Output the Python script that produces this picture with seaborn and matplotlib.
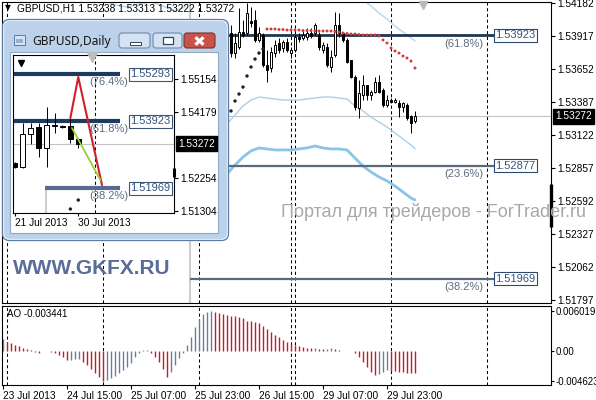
import numpy as np
import matplotlib
matplotlib.use("Agg")
import matplotlib.pyplot as plt
from matplotlib.patches import Rectangle, FancyBboxPatch
import seaborn as sns

sns.set_style("white")
plt.rcParams['font.family'] = ['Liberation Sans', 'DejaVu Sans']

# ---------------- H1 chart data ----------------
h1_idx = list(range(56, 104))
h1_open = [1.53869, 1.53941, 1.53780, 1.53829, 1.53949, 1.53941, 1.54037, 1.54045, 1.53885, 1.53925,
           1.53684, 1.53660, 1.53780, 1.53861, 1.53821, 1.53869, 1.53780, 1.53805, 1.53909, 1.53901,
           1.53909, 1.53941, 1.53941, 1.53925, 1.53805, 1.53829, 1.53668, 1.53764, 1.54005, 1.53941,
           1.53885, 1.53724, 1.53588, 1.53339, 1.53443, 1.53523, 1.53443, 1.53467, 1.53548, 1.53483,
           1.53363, 1.53403, 1.53387, 1.53379, 1.53347, 1.53363, 1.53275, 1.53238]
h1_high = [1.53941, 1.54005, 1.53941, 1.54142, 1.54045, 1.54182, 1.54150, 1.54126, 1.53989, 1.53941,
           1.53805, 1.53829, 1.53885, 1.53901, 1.53885, 1.53901, 1.53829, 1.53925, 1.53941, 1.53965,
           1.53981, 1.53981, 1.54021, 1.53949, 1.53869, 1.53861, 1.53805, 1.54110, 1.54102, 1.53949,
           1.53901, 1.53724, 1.53604, 1.53564, 1.53604, 1.53523, 1.53483, 1.53588, 1.53604, 1.53499,
           1.53443, 1.53419, 1.53419, 1.53403, 1.53387, 1.53379, 1.53283, 1.53313]
h1_low = [1.53845, 1.53748, 1.53740, 1.53813, 1.53909, 1.53925, 1.53989, 1.53869, 1.53869, 1.53668,
          1.53548, 1.53628, 1.53748, 1.53780, 1.53788, 1.53788, 1.53740, 1.53788, 1.53869, 1.53885,
          1.53885, 1.53901, 1.53925, 1.53805, 1.53780, 1.53668, 1.53628, 1.53748, 1.53909, 1.53869,
          1.53700, 1.53580, 1.53323, 1.53258, 1.53403, 1.53403, 1.53403, 1.53459, 1.53459, 1.53347,
          1.53347, 1.53379, 1.53379, 1.53266, 1.53307, 1.53242, 1.53138, 1.53222]
h1_close = [1.53909, 1.53780, 1.53861, 1.53949, 1.53925, 1.54102, 1.54021, 1.53885, 1.53941, 1.53684,
            1.53644, 1.53788, 1.53845, 1.53805, 1.53869, 1.53805, 1.53805, 1.53909, 1.53893, 1.53925,
            1.53941, 1.53917, 1.54005, 1.53829, 1.53845, 1.53684, 1.53748, 1.54005, 1.53941, 1.53885,
            1.53708, 1.53588, 1.53347, 1.53459, 1.53523, 1.53443, 1.53467, 1.53548, 1.53467, 1.53363,
            1.53403, 1.53387, 1.53403, 1.53347, 1.53379, 1.53258, 1.53218, 1.53272]

sar_bull_idx = list(range(57, 66))
sar_bull = [1.53315, 1.53395, 1.53451, 1.53507, 1.53596, 1.53668, 1.53732, 1.53780, 1.53813]
sar_bear_idx = list(range(66, 104))
sar_bear = [1.53973, 1.53973, 1.53973, 1.53969, 1.53969, 1.53965, 1.53965, 1.53965, 1.53965, 1.53961,
            1.53961, 1.53961, 1.53957, 1.53957, 1.53957, 1.53957, 1.53957, 1.53953, 1.53949, 1.53941,
            1.53937, 1.53933, 1.53933, 1.53929, 1.53925, 1.53925, 1.53925, 1.53925, 1.53917, 1.53885,
            1.53861, 1.53821, 1.53797, 1.53780, 1.53756, 1.53740, 1.53716, 1.53660]

env_idx = [56, 58, 60, 62, 64, 66, 68, 70, 72, 74, 76, 78, 80, 82, 84, 86, 88, 90, 92, 94, 96, 98, 100, 102, 103]
env_mid = [1.53210, 1.53283, 1.53355, 1.53403, 1.53427, 1.53419, 1.53411, 1.53403, 1.53403, 1.53403,
           1.53411, 1.53419, 1.53427, 1.53427, 1.53419, 1.53411, 1.53355, 1.53315, 1.53266, 1.53226,
           1.53186, 1.53138, 1.53090, 1.53042, 1.53010]
env_low = [1.52809, 1.52881, 1.52945, 1.52994, 1.53018, 1.53010, 1.53002, 1.53002, 1.53002, 1.53010,
           1.53018, 1.53034, 1.53018, 1.53010, 1.53010, 1.53002, 1.52937, 1.52873, 1.52825, 1.52785,
           1.52753, 1.52712, 1.52664, 1.52616, 1.52600]
env_up_a_idx = [22, 25, 28, 31, 34, 37, 40, 43, 45, 47, 49]
env_up_a = [1.54254, 1.54206, 1.54166, 1.54150, 1.54174, 1.54190, 1.54158, 1.54118, 1.54142, 1.54206, 1.54270]
env_up_b_idx = [88, 90, 92, 94, 96, 98, 100, 102, 103]
env_up_b = [1.54270, 1.54206, 1.54158, 1.54102, 1.54053, 1.53997, 1.53949, 1.53901, 1.53877]

bid = 1.53272
h1_fib_levels = [1.53923, 1.52877, 1.51969]
h1_fib_pcts = ["(61.8%)", "(23.6%)", "(38.2%)"]
h1_yticks = [1.54182, 1.53917, 1.53652, 1.53387, 1.53122, 1.52857, 1.52592, 1.52327, 1.52062, 1.51797]
separators = [1, 25, 49, 72, 73, 97, 121]
xlabel_idx = [0, 16, 32, 48, 64, 80, 96]
xlabels = ["23 Jul 2013", "24 Jul 15:00", "25 Jul 07:00", "25 Jul 23:00",
           "26 Jul 15:00", "29 Jul 07:00", "29 Jul 23:00"]

ao_idx = list(range(0, 104))
ao = [0.00173, 0.00127, 0.00112, 0.00091, 0.00066, 0.00046, 0.00025, 0.00010, -0.00015, -0.00030,
      -0.00010, -0.00005, -0.00020, -0.00041, -0.00071, -0.00102, -0.00142, -0.00137, -0.00132, -0.00127,
      -0.00168, -0.00218, -0.00274, -0.00335, -0.00406, -0.004623, -0.00447, -0.00422, -0.00386, -0.00345,
      -0.00295, -0.00244, -0.00183, -0.00100, -0.00030, 0.00010, 0.00015, -0.00030, -0.00090, -0.00170,
      -0.00280, -0.00396, -0.00320, -0.00218, -0.00117, -0.00030, 0.00086, 0.00213, 0.00366, 0.00478,
      0.00559, 0.00594, 0.006019, 0.00584, 0.00569, 0.00554, 0.00544, 0.00533, 0.00523, 0.00513,
      0.00493, 0.00457, 0.00447, 0.00437, 0.00417, 0.00381, 0.00330, 0.00284, 0.00239, 0.00203,
      0.00163, 0.00132, 0.00107, 0.00086, 0.00071, 0.00056, 0.00046, 0.00036, 0.00041, 0.00030,
      0.00025, 0.00030, 0.00036, 0.00020, 0.00005, -0.00010, -0.00005, -0.00002, -0.00030, -0.00090,
      -0.00170, -0.00250, -0.00320, -0.00376, -0.00350, -0.00320, -0.00300, -0.00305, -0.00312, -0.00320,
      -0.00327, -0.00333, -0.00339, -0.003441]
ao_ticks = [0.006019, 0.0, -0.004623]
ao_ticklabels = ["0.006019", "0.00", "-0.004623"]

# ---------------- Daily window data ----------------
d_idx = [0, 1, 2, 3, 4, 5, 6, 7, 8]
d_open = [1.52704, 1.52587, 1.53550, 1.53754, 1.53141, 1.53783, 1.53783, 1.53783, 1.53404]
d_high = [1.52733, 1.53870, 1.53870, 1.53870, 1.54337, 1.54162, 1.53812, 1.54045, 1.53433]
d_low = [1.52558, 1.52558, 1.53258, 1.52879, 1.52587, 1.53579, 1.53725, 1.53287, 1.53138]
d_close = [1.52587, 1.53550, 1.53725, 1.53141, 1.53812, 1.53812, 1.53754, 1.53404, 1.53272]
d_fib_levels = [1.55293, 1.53923, 1.51969]
d_fib_pcts = ["(76.4%)", "(61.8%)", "(38.2%)"]
d_fib_start = [-0.25, -0.25, 3.8]
d_zig_idx = [7, 8, 11]
d_zig = [1.54016, 1.55212, 1.52062]
d_green_idx = [7.2, 10.8]
d_green = [1.53725, 1.52208]
d_sar_idx = [7, 8]
d_sar = [1.51362, 1.51624]
d_yticks = [1.55154, 1.54179, 1.52254, 1.51304]
d_xlabel_idx = [0, 8]
d_xlabels = ["21 Jul 2013", "30 Jul 2013"]

# ---------------- figure ----------------
W, H = 596, 400
fig = plt.figure(figsize=(W / 100, H / 100), dpi=100)
fig.patch.set_facecolor('white')


def box(x0, y0, x1, y1):
    return [x0 / W, 1 - y1 / H, (x1 - x0) / W, (y1 - y0) / H]


def candles(a, idx, o, h, l, c, width, lw, minh):
    idx = np.asarray(idx, float)
    o, h, l, c = map(np.asarray, (o, h, l, c))
    a.vlines(idx, l, h, color='black', lw=lw, zorder=4)
    up = c >= o
    bottom = np.minimum(o, c)
    height = np.maximum(np.abs(c - o), minh)
    a.bar(idx[up], height[up], width, bottom[up], color='white', edgecolor='black', linewidth=lw, zorder=5)
    a.bar(idx[~up], height[~up], width, bottom[~up], color='black', edgecolor='black', linewidth=lw, zorder=5)


TICK_FS = 7.3

# ---- main H1 axes ----
ax = fig.add_axes(box(2, 2, 551, 303))
ax.set_facecolor('white')
for s in separators:
    ax.axvline(s, color='black', lw=0.75, ls=(0, (3, 2.5)), zorder=1)
ax.axvline(46.75, color='#cdcdcd', lw=1.5, zorder=1)
ax.axhline(bid, color='#c4c4c4', lw=0.8, zorder=1)

sns.lineplot(x=env_idx, y=env_mid, ax=ax, color='#a9d0ea', lw=1.0, sort=False, zorder=2)
sns.lineplot(x=env_idx, y=env_low, ax=ax, color='#8cc4e8', lw=2.0, sort=False, zorder=2)
sns.lineplot(x=env_up_a_idx, y=env_up_a, ax=ax, color='#b6d8ee', lw=1.0, sort=False, zorder=2)
sns.lineplot(x=env_up_b_idx, y=env_up_b, ax=ax, color='#b6d8ee', lw=1.0, sort=False, zorder=2)

fib_cols = ['#1f3651', '#5d687c', '#5d687c']
fib_lws = [2.0, 1.6, 1.6]
for lvl, pct, col, lw in zip(h1_fib_levels, h1_fib_pcts, fib_cols, fib_lws):
    ax.hlines(lvl, 46.75, 122.75, color=col, lw=lw, zorder=3)
    ax.text(123.1, lvl, f"{lvl:.5f}", ha='left', va='center', fontsize=8, color='#34567c',
            bbox=dict(boxstyle='square,pad=0.12', fc='white', ec='#2c4a6c', lw=0.8), zorder=8)
    ax.annotate(pct, xy=(120.0, lvl), xytext=(0, -2.5), textcoords='offset points',
                ha='right', va='top', fontsize=8, color='#5d6c82', zorder=8)

candles(ax, h1_idx, h1_open, h1_high, h1_low, h1_close, 0.72, 0.7, 0.00004)

sns.scatterplot(x=sar_bull_idx, y=sar_bull, ax=ax, color='#1b2130', s=6, marker='o',
                edgecolor='none', linewidth=0, zorder=6)
sns.scatterplot(x=sar_bear_idx, y=sar_bear, ax=ax, color='#d43a3a', s=4.5, marker='o',
                edgecolor='none', linewidth=0, zorder=6)

ax.plot([137, 137], [1.52728, 1.52383], color='black', lw=2.4, solid_capstyle='butt',
        clip_on=False, zorder=9)
ax.plot([105], [1.54166], marker='v', ms=6, color='#b8b8b8', clip_on=False, zorder=9)

ax.set_xlim(-0.25, 137.0)
ax.set_ylim(1.51773, 1.54190)
ax.yaxis.tick_right()
ax.set_yticks(h1_yticks)
ax.set_yticklabels([f"{v:.5f}" for v in h1_yticks])
ax.set_xticks([])
ax.tick_params(axis='y', right=True, left=False, length=3, width=0.8, pad=1.5,
               labelsize=TICK_FS, colors='black')
for sp in ax.spines.values():
    sp.set_color('black')
    sp.set_linewidth(0.8)
ax.text(1.007, bid, f"{bid:.5f}", transform=ax.get_yaxis_transform(), ha='left', va='center',
        fontsize=TICK_FS, color='white',
        bbox=dict(boxstyle='square,pad=0.22', fc='black', ec='black'), zorder=10, clip_on=False)

# ---- AO axes ----
ax2 = fig.add_axes(box(2, 306, 551, 385))
for s in separators:
    ax2.axvline(s, color='black', lw=0.75, ls=(0, (3, 2.5)), zorder=1)
ao_arr = np.asarray(ao)
ao_colors = ['#6e7d96' if k == 0 or ao_arr[k] > ao_arr[k - 1] else '#be1e28' for k in range(len(ao_arr))]
ax2.vlines(ao_idx, 0, ao_arr, colors=ao_colors, lw=1.0, zorder=2)
ax2.set_xlim(-0.25, 137.0)
ax2.set_ylim(-0.00523, 0.00681)
ax2.yaxis.tick_right()
ax2.set_yticks(ao_ticks)
ax2.set_yticklabels(ao_ticklabels)
ax2.set_xticks(xlabel_idx)
ax2.set_xticklabels(xlabels)
for t in ax2.get_xticklabels():
    t.set_horizontalalignment('left')
ax2.tick_params(axis='y', right=True, left=False, length=2.5, width=0.8, pad=1.0,
                labelsize=6.9, colors='black')
ax2.tick_params(axis='x', bottom=True, length=3, width=0.8, pad=1.5, labelsize=TICK_FS, colors='black')
for sp in ax2.spines.values():
    sp.set_color('black')
    sp.set_linewidth(0.8)
ax2.text(0.009, 0.9, f"AO {ao[-1]:.6f}", transform=ax2.transAxes, ha='left', va='center',
         fontsize=7, color='black')

# ---- figure texts ----
fig.text(5 / W, 1 - 8 / H, "\u25bc", fontsize=5.5, color='black', va='center', ha='left',
         family=['DejaVu Sans'])
fig.text(17 / W, 1 - 8.5 / H, "GBPUSD,H1 1.53238 1.53313 1.53222 1.53272", fontsize=TICK_FS,
         color='black', va='center', ha='left')
fig.text(13 / W, 1 - 273.5 / H, "WWW.GKFX.RU", fontsize=15, fontweight='bold', color='#5a6c98',
         va='baseline', ha='left')
fig.text(281 / W, 1 - 217 / H, "Портал для трейдеров - ForTrader.ru", fontsize=13,
         color='#a8a8a8', va='baseline', ha='left')

# ---- daily window chrome ----
ch = fig.add_axes([0, 0, 1, 1], zorder=5)
ch.set_xlim(0, W)
ch.set_ylim(H, 0)
ch.axis('off')
ch.add_patch(FancyBboxPatch((2.5, 19.5), 226, 221, boxstyle='round,pad=0,rounding_size=7',
                            fc='#bbd2ea', ec='#5d7ca3', lw=0.9))
ch.add_patch(FancyBboxPatch((3.7, 20.7), 223.6, 218.6, boxstyle='round,pad=0,rounding_size=6',
                            fc='none', ec='#e6f0fa', lw=0.7))
ch.add_patch(Rectangle((10, 52), 208, 181, fc='white', ec='#8fa9c6', lw=0.8))
ch.add_patch(Rectangle((13.5, 34.5), 11, 10, fc='#d6e5f5', ec='#5a7ca5', lw=0.7))
ch.add_patch(Rectangle((15.5, 38.5), 7, 4, fc='#8fb4dc', ec='none'))
ch.text(32, 41, "GBPUSD,Daily", fontsize=8.6, va='center', ha='left', color='#151515',
        family=['Noto Sans', 'DejaVu Sans'])
ch.add_patch(FancyBboxPatch((119, 33), 31, 15, boxstyle='round,pad=0,rounding_size=3',
                            fc='#d4e2f2', ec='#6e89ad', lw=0.8))
ch.add_patch(Rectangle((129.5, 41.5), 11, 3, fc='white', ec='#2e4563', lw=0.7))
ch.add_patch(FancyBboxPatch((153, 33), 29, 15, boxstyle='round,pad=0,rounding_size=3',
                            fc='#d4e2f2', ec='#6e89ad', lw=0.8))
ch.add_patch(Rectangle((162.5, 37), 10, 7, fc='white', ec='#2e4563', lw=0.9))
ch.add_patch(FancyBboxPatch((184, 33), 31, 15, boxstyle='round,pad=0,rounding_size=3',
                            fc='#c9534b', ec='#7d2f29', lw=0.8))
ch.plot([195.5, 203.5], [37.3, 44.7], color='white', lw=2.3, solid_capstyle='butt')
ch.plot([195.5, 203.5], [44.7, 37.3], color='white', lw=2.3, solid_capstyle='butt')

# ---- daily chart axes ----
dax = fig.add_axes(box(13, 55, 174, 213), zorder=6)
dax.set_facecolor('white')
dax.axvline(10.1, color='black', lw=0.75, ls=(0, (3, 2.5)), zorder=1)
dax.vlines(3.9, 1.51246, d_fib_levels[2], color='#cdcdcd', lw=1.5, zorder=1)
dax.axhline(bid, color='#c4c4c4', lw=0.8, zorder=1)
d_cols = ['#1f3a60', '#1f3a60', '#5b6b90']
for lvl, pct, x0, col in zip(d_fib_levels, d_fib_pcts, d_fib_start, d_cols):
    dax.hlines(lvl, x0, 13.3, color=col, lw=3.0, zorder=2)
    dax.text(14.6, lvl, f"{lvl:.5f}", ha='left', va='center', fontsize=8, color='#34567c',
             bbox=dict(boxstyle='square,pad=0.12', fc='white', ec='#3c5878', lw=0.8), zorder=8)
    dax.annotate(pct, xy=(14.3, lvl), xytext=(0, -2.2), textcoords='offset points',
                 ha='right', va='top', fontsize=8, color='#5d6c82', zorder=8)
candles(dax, d_idx, d_open, d_high, d_low, d_close, 0.62, 0.7, 0.00012)
sns.lineplot(x=d_zig_idx, y=d_zig, ax=dax, color='#d21f2b', lw=1.5, sort=False, zorder=6)
sns.lineplot(x=d_green_idx, y=d_green, ax=dax, color='#9acd32', lw=1.3, sort=False, zorder=6)
sns.scatterplot(x=d_sar_idx, y=d_sar, ax=dax, color='#1b2130', s=6, marker='o',
                edgecolor='none', linewidth=0, zorder=6)
dax.plot([0.76], [1.55621], marker='v', ms=4.5, color='black', zorder=7)
dax.plot([9.75], [1.55796], marker='v', ms=7, color='#bdbdbd', zorder=7, clip_on=False)
dax.plot([20.05, 20.05], [1.52558, 1.52295], color='black', lw=2.2, solid_capstyle='butt',
         clip_on=False, zorder=9)
dax.set_xlim(-0.25, 20.1)
dax.set_ylim(1.51246, 1.55854)
dax.yaxis.tick_right()
dax.set_yticks(d_yticks)
dax.set_yticklabels([f"{v:.5f}" for v in d_yticks])
dax.set_xticks(d_xlabel_idx)
dax.set_xticklabels(d_xlabels)
for t in dax.get_xticklabels():
    t.set_horizontalalignment('left')
dax.tick_params(axis='y', right=True, left=False, length=3, width=0.8, pad=1.5,
                labelsize=TICK_FS, colors='black')
dax.tick_params(axis='x', bottom=True, length=2, width=0.8, pad=1.5, labelsize=TICK_FS, colors='black')
for sp in dax.spines.values():
    sp.set_color('black')
    sp.set_linewidth(0.8)
dax.text(1.025, bid, f"{bid:.5f}", transform=dax.get_yaxis_transform(), ha='left', va='center',
         fontsize=TICK_FS, color='white',
         bbox=dict(boxstyle='square,pad=0.22', fc='black', ec='black'), zorder=10, clip_on=False)

fig.savefig("out.png", dpi=100, facecolor='white')
